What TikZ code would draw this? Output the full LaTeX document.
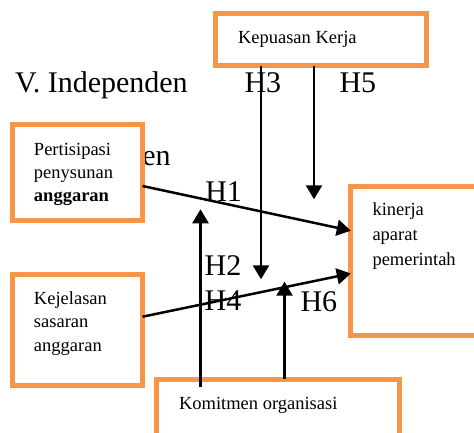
\documentclass[tikz,border=0pt]{standalone}
\usepackage{fontspec}
\setmainfont{Liberation Serif}
\usetikzlibrary{arrows.meta,calc}
\definecolor{boxorange}{HTML}{F79646}
\begin{document}
\begin{tikzpicture}[x=1pt,y=-1pt,
  box/.style={draw=boxorange,line width=5pt,fill=white,outer sep=0pt,inner sep=0pt,rectangle},
  small/.style={font=\fontsize{18.5}{23}\selectfont,anchor=base west,inner sep=0pt,outer sep=0pt},
  big/.style={font=\fontsize{30}{36}\selectfont,anchor=base west,inner sep=0pt,outer sep=0pt},
  conn/.style={line width=2.5pt,-{Triangle[length=14pt,width=16pt]}}]
\useasboundingbox (0,0) rectangle (474,432);
\clip (0,0) rectangle (474,432);
\fill[white] (0,0) rectangle (474,432);
% partly hidden label
\node[big] (en) at (142.3,165.3) {en};
% boxes
\node[box,minimum width=130pt,minimum height=96.6pt] (pp) at (77.5,172.5) {};
\node[box,minimum width=130pt,minimum height=111pt] (kej) at (77.5,329.7) {};
\node[box,minimum width=139.2pt,minimum height=149.3pt] (kin) at (420.4,261.15) {};
\node[box,minimum width=242.7pt,minimum height=70.8pt] (kom) at (277.85,414.6) {};
\node[box,minimum width=211pt,minimum height=52pt] (kep) at (321,39.5) {};
% box texts
\node[small] (tkep) at (238,43) {Kepuasan Kerja};
\node[small] (tp1) at (34,155) {Pertisipasi};
\node[small] (tp2) at (34,178) {penysunan};
\node[small] (tp3) at (34,201.5) {\textbf{anggaran}};
\node[small] (tk1) at (34,304) {Kejelasan};
\node[small] (tk2) at (34,327.5) {sasaran};
\node[small] (tk3) at (34,351) {anggaran};
\node[small] (ti1) at (372.5,215.7) {kinerja};
\node[small] (ti2) at (372.5,240.5) {aparat};
\node[small] (ti3) at (372.5,265) {pemerintah};
\node[small] (tkom) at (179,409) {Komitmen organisasi};
% big labels
\node[big] (vind) at (15,92) {V. Independen};
\node[big] (lh3) at (244.5,92) {H3};
\node[big] (lh5) at (339.5,92) {H5};
\node[big] (lh1) at (205.3,201.7) {H1};
\node[big] (lh2) at (204.7,275.5) {H2};
\node[big] (lh4) at (204.7,310.5) {H4};
\node[big] (lh6) at (300.5,311.5) {H6};
% free arrow ends
\coordinate (h3end) at (261,279.3);
\coordinate (h5end) at (314,199.3);
\coordinate (h2end) at (200.5,209.3);
\coordinate (h6end) at (284.5,281.7);
% connectors
\draw[conn] ($(pp.east)+(0,13.5)$) -- ($(kin.west)+(0,-30.45)$);
\draw[conn] ($(kej.east)+(0,-13)$) -- ($(kin.west)+(0,12.35)$);
\draw[conn] ($(kep.south)+(-60,0)$) -- (h3end);
\draw[conn] ($(kep.south)+(-7,0)$) -- (h5end);
\draw[conn] ($(kom.north)+(-77.35,8)$) -- (h2end);
\draw[conn] ($(kom.north)+(6.65,0)$) -- (h6end);
\end{tikzpicture}
\end{document}
